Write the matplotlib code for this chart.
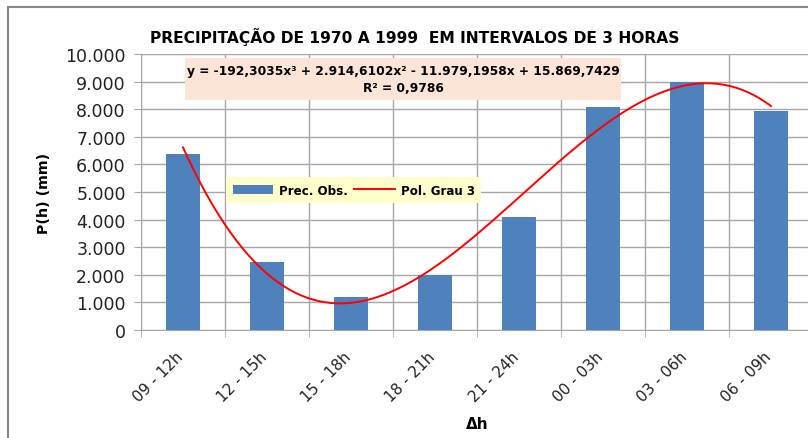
import numpy as np
import matplotlib
matplotlib.use('Agg')
import matplotlib.pyplot as plt
from matplotlib.patches import Rectangle
from matplotlib.transforms import ScaledTranslation

# Données : précipitation par intervalle de 3 heures (mm)
intervalos = ['09 - 12h', '12 - 15h', '15 - 18h', '18 - 21h',
              '21 - 24h', '00 - 03h', '03 - 06h', '06 - 09h']
prec_obs = [6370, 2460, 1200, 2000, 4080, 8070, 9000, 7940]
y_ticks = [0, 1000, 2000, 3000, 4000, 5000, 6000, 7000, 8000, 9000, 10000]
y_tick_labels = ['0', '1.000', '2.000', '3.000', '4.000', '5.000',
                 '6.000', '7.000', '8.000', '9.000', '10.000']
equacao = 'y = -192,3035x³ + 2.914,6102x² - 11.979,1958x + 15.869,7429'
r2_txt = 'R² = 0,9786'

bar_color = '#4F81BD'
grid_color = '#A6A6A6'

x = np.arange(1, len(prec_obs) + 1)

# tendance polynomiale d'ordre 3 (comme la courbe d'Excel)
coef = np.polyfit(x, prec_obs, 3)
xs = np.linspace(1, len(prec_obs), 200)
ys = np.polyval(coef, xs)

fig = plt.figure(figsize=(8.08, 4.39), dpi=100)
ax = fig.add_axes([141 / 808, 108 / 439, 672 / 808, 276 / 439])

bars = ax.bar(x, prec_obs, width=0.4, color=bar_color, label='Prec. Obs.', zorder=3)
line, = ax.plot(xs, ys, color='red', linewidth=1.4, label='Pol. Grau 3', zorder=4)

ax.set_xlim(0.5, len(prec_obs) + 0.5)
ax.set_ylim(0, 10000)
ax.set_yticks(y_ticks)
ax.set_yticklabels(y_tick_labels, fontsize=12.5, color='#222222')
ax.set_xticks(x)
ax.set_xticks(np.arange(0.5, len(prec_obs) + 1), minor=True)
ax.tick_params(axis='x', which='major', length=0)
ax.tick_params(axis='x', which='minor', length=5, color=grid_color)
ax.tick_params(axis='y', length=5, color=grid_color, pad=6)
ax.set_xticklabels(intervalos, rotation=45, ha='right', rotation_mode='anchor',
                   fontsize=11, color='#222222')
off = ScaledTranslation(-0.075, -0.14, fig.dpi_scale_trans)
for lab in ax.get_xticklabels():
    lab.set_transform(lab.get_transform() + off)

ax.grid(True, axis='y', color=grid_color, linewidth=1, zorder=0)
ax.grid(True, axis='x', which='minor', color=grid_color, linewidth=1, zorder=0)
for s in ['top', 'right']:
    ax.spines[s].set_visible(False)
for s in ['left', 'bottom']:
    ax.spines[s].set_color(grid_color)

# caixa da equação
ax.add_patch(Rectangle((0.065, 0.833), 0.649, 0.152, transform=ax.transAxes,
                       facecolor='#FCE4D6', edgecolor='none', zorder=5))
ax.text(0.39, 0.942, equacao, transform=ax.transAxes, ha='center', va='center',
        fontsize=8.8, fontweight='bold', zorder=6)
ax.text(0.39, 0.878, r2_txt, transform=ax.transAxes, ha='center', va='center',
        fontsize=8.8, fontweight='bold', zorder=6)

leg = ax.legend(handles=[bars, line], loc='upper left', bbox_to_anchor=(0.1265, 0.554),
                ncol=2, borderaxespad=0, frameon=True, fancybox=False, framealpha=1,
                facecolor='#FFFFCC', edgecolor='none', handlelength=3.4,
                columnspacing=0.5, handletextpad=0.5, borderpad=0.55,
                prop={'weight': 'bold', 'size': 8.6})
leg.set_zorder(6)

fig.text(415 / 808, 1 - 37 / 439, 'PRECIPITAÇÃO DE 1970 A 1999  EM INTERVALOS DE 3 HORAS',
         ha='center', va='center', fontsize=11.2, fontweight='bold')
fig.text(44 / 808, 1 - 193 / 439, 'P(h) (mm)', rotation=90, ha='center', va='center',
         fontsize=10.3, fontweight='bold')
fig.text(477 / 808, 1 - 425 / 439, 'Δh', ha='center', va='center',
         fontsize=11, fontweight='bold')

# moldura do gráfico
fig.patches.append(Rectangle((8 / 808, -0.1), 1.2, 1 - 8 / 439 + 0.1,
                             transform=fig.transFigure, facecolor='none',
                             edgecolor='#868686', linewidth=1.5, zorder=0))

fig.savefig('out.png', dpi=100)
